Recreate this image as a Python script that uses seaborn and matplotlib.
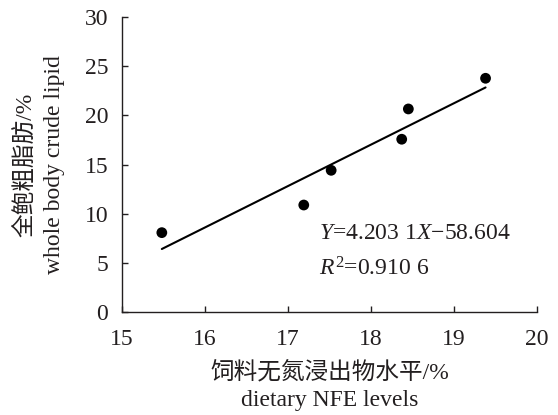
import matplotlib
matplotlib.use('Agg')
import matplotlib.pyplot as plt
import pandas as pd
import seaborn as sns

# data
nfe_levels = [15.48, 17.19, 17.52, 18.37, 18.45, 19.38]
crude_lipid = [8.07, 10.88, 14.41, 17.57, 20.65, 23.77]
x_ticks = [15, 16, 17, 18, 19, 20]
y_ticks = [0, 5, 10, 15, 20, 25, 30]
equation_text = '$\\mathit{Y}$=4.203 1$\\mathit{X}$\u221258.604'
r2_text = '$\\mathit{R}^{2}$=0.910 6'
x_label = '饲料无氮浸出物水平/%\ndietary NFE levels'
y_label = '全鲍粗脂肪/%\nwhole body crude lipid'

TEXT = '#231f20'
FS = 17


def main():
    sns.set_style('ticks')
    plt.rcParams['font.family'] = ['Liberation Serif', 'Noto Sans CJK SC']
    plt.rcParams['mathtext.fontset'] = 'custom'
    plt.rcParams['mathtext.rm'] = 'Liberation Serif'
    plt.rcParams['mathtext.it'] = 'Liberation Serif:italic'
    plt.rcParams['font.size'] = FS

    df = pd.DataFrame({'x': nfe_levels, 'y': crude_lipid})

    fig = plt.figure(figsize=(5.58, 4.15), dpi=100)
    ax = fig.add_axes([0.2186, 0.2482, 0.7438, 0.7108])

    sns.regplot(data=df, x='x', y='y', ax=ax, ci=None, truncate=True,
                scatter_kws={'s': 60, 'color': 'black', 'alpha': 1,
                             'edgecolors': 'none'},
                line_kws={'color': 'black', 'lw': 1.5})

    ax.set_xlim(15, 20)
    ax.set_ylim(0, 30)
    ax.set_xticks(x_ticks)
    ax.set_yticks(y_ticks)
    ax.tick_params(direction='in', length=4, width=1, pad=10,
                   colors=TEXT, labelsize=FS)
    ax.tick_params(axis='x', pad=12)
    for side in ['top', 'right']:
        ax.spines[side].set_visible(False)
    for side in ['left', 'bottom']:
        ax.spines[side].set_color(TEXT)
        ax.spines[side].set_linewidth(1)

    ax.set_xlabel(x_label, color=TEXT, fontsize=FS, linespacing=1.4, labelpad=8)
    ax.set_ylabel(y_label, color=TEXT, fontsize=FS, linespacing=1.4, labelpad=14)

    ax.text(17.37, 8.0, equation_text, color=TEXT, fontsize=FS, va='center')
    ax.text(17.37, 4.4, r2_text, color=TEXT, fontsize=FS, va='center')

    plt.savefig('out.png', dpi=100)


if __name__ == "__main__":
    main()
